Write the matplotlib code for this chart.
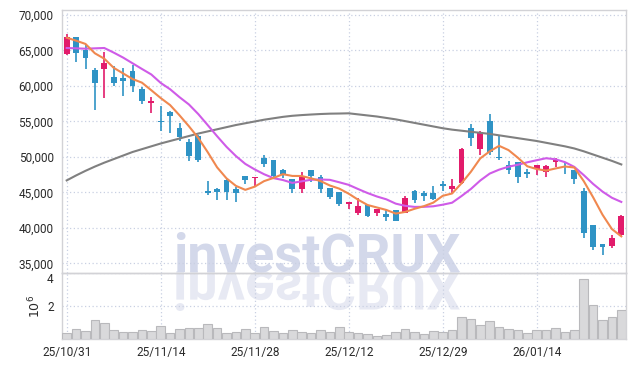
import numpy as np
import matplotlib
matplotlib.use('Agg')
import matplotlib.pyplot as plt
from matplotlib.textpath import TextPath
from matplotlib.patches import PathPatch
from matplotlib.font_manager import FontProperties
from matplotlib.transforms import Affine2D, ScaledTranslation
from matplotlib.ticker import FuncFormatter

# Daily candles (trading days), 25/10/31 .. 26/01/27
opens = [64500, 66850, 65050, 62250, 62450, 61300, 61150, 62100, 59550, 57600,
         55050, 56350, 54100, 52100, 52950, 45200, 45500, 46750, 45500, 47300,
         47100, 49800, 49550, 48150, 46850, 45550, 48150, 47150, 45600, 45000,
         43350, 42150, 43250, 42150, 41950, 42550, 42150, 45200, 44950, 44950,
         46200, 45450, 46300, 54050, 51100, 55050, 50050, 48850, 49250, 47950,
         48300, 47950, 49350, 48750, 48150, 45250, 40400, 37750, 37450, 39000]
highs = [67300, 66900, 65900, 62600, 64800, 62800, 62500, 62900, 59900, 58500,
         57200, 56500, 54750, 52600, 53100, 46600, 45600, 46900, 45800, 47350,
         47250, 50300, 49600, 48300, 46950, 47850, 48200, 47450, 45700, 45050,
         43700, 44250, 43300, 42700, 42550, 42600, 44550, 45300, 45200, 45900,
         46550, 46850, 51300, 54650, 53650, 56050, 53000, 49500, 49300, 48250,
         48850, 48800, 49800, 49100, 48200, 45600, 40450, 37800, 39000, 41850]
lows = [64400, 63350, 62400, 56600, 58300, 59950, 58600, 59200, 57450, 56150,
        53700, 53350, 52300, 49500, 49350, 44600, 43950, 44000, 43700, 46200,
        45900, 48550, 47150, 47000, 44950, 44950, 46500, 44950, 44050, 43150,
        42700, 41850, 41600, 41700, 41050, 41000, 42100, 43550, 43850, 43950,
        45200, 44900, 46200, 51600, 50300, 50300, 49600, 47600, 46400, 47100,
        47400, 47150, 48650, 47600, 46150, 38650, 36900, 36200, 37250, 38900]
closes = [66850, 64700, 64000, 60450, 63200, 60450, 60750, 60050, 57900, 57850,
          54950, 55800, 52850, 50200, 49600, 44950, 45100, 45100, 44900, 46800,
          47200, 49000, 47350, 47550, 45550, 47150, 47350, 45450, 44400, 43350,
          43600, 43100, 41750, 42650, 41600, 41050, 44250, 43950, 44500, 44100,
          45850, 45900, 51100, 52650, 53550, 50750, 49800, 48100, 47250, 47550,
          48800, 48700, 49600, 48650, 46850, 39250, 37300, 37300, 38550, 41700]

# volume in 10^6 shares
volumes = [0.35, 0.60, 0.47, 1.15, 0.97, 0.54, 0.41, 0.41, 0.54, 0.47,
           0.78, 0.35, 0.60, 0.66, 0.66, 0.93, 0.66, 0.35, 0.41, 0.60,
           0.35, 0.72, 0.47, 0.35, 0.54, 0.41, 0.35, 0.54, 0.44, 0.72,
           0.41, 0.35, 0.29, 0.17, 0.23, 0.41, 0.60, 0.41, 0.29, 0.47,
           0.41, 0.54, 1.34, 1.21, 0.84, 1.09, 0.72, 0.60, 0.54, 0.35,
           0.54, 0.54, 0.66, 0.41, 0.54, 3.68, 2.08, 1.15, 1.34, 1.77]

# moving averages
ma5 = [66800, 66380, 65920, 64600, 63840, 62560, 61770, 60980, 60470, 59400,
       58300, 57310, 55870, 54330, 52680, 50680, 48540, 46990, 45930, 45370,
       45820, 46600, 47050, 47580, 47330, 47320, 46990, 46610, 45980, 45540,
       44830, 43980, 43240, 42890, 42540, 42030, 42260, 42700, 43070, 43570,
       44530, 44860, 46290, 47920, 49810, 50790, 51570, 50970, 49890, 48690,
       48300, 48080, 48380, 48660, 48520, 46610, 44330, 41870, 39850, 38820]
ma10 = [65350, 65300, 65250, 65300, 65350, 64700, 64000, 63200, 62400, 61620,
        60430, 59540, 58425, 57400, 56040, 54490, 52925, 51430, 50130, 49025,
        48250, 47570, 47020, 46755, 46350, 46570, 46795, 46830, 46780, 46435,
        46075, 45485, 44925, 44435, 44040, 43430, 43120, 42970, 42980, 43055,
        43280, 43560, 44495, 45495, 46690, 47660, 48215, 48630, 48905, 49250,
        49545, 49825, 49675, 49275, 48605, 47455, 46205, 45125, 44255, 43670]
ma_long = [46700, 47400, 48050, 48650, 49200, 49700, 50200, 50700, 51100, 51500,
           51900, 52250, 52600, 52950, 53300, 53600, 53900, 54200, 54500, 54750,
           55000, 55250, 55450, 55650, 55800, 55900, 55980, 56050, 56100, 56120,
           56150, 56000, 55850, 55700, 55500, 55300, 55050, 54800, 54550, 54300,
           54050, 53850, 53700, 53550, 53400, 53250, 53050, 52850, 52650, 52450,
           52250, 52000, 51750, 51500, 51200, 50800, 50350, 49900, 49450, 48950]

tick_pos = [0, 10, 20, 30, 40, 50]
tick_labels = ['25/10/31', '25/11/14', '25/11/28', '25/12/12', '25/12/29', '26/01/14']

UP = '#e21b6b'
DOWN = '#2f93c5'
GRID = '#c9d0e2'
SPINE = '#d2d2d6'

plt.rcParams['font.family'] = ['Roboto', 'DejaVu Sans']

fig = plt.figure(figsize=(6.35, 3.67), dpi=100)
ax = fig.add_axes([62 / 635, 1 - 273 / 367, 564 / 635, 263 / 367])
axv = fig.add_axes([62 / 635, 1 - 339 / 367, 564 / 635, 66 / 367], sharex=ax)

x = np.arange(len(opens))
o = np.array(opens)
c = np.array(closes)
colors = [UP if cc >= oo else DOWN for oo, cc in zip(o, c)]

# candles
ax.vlines(x, lows, highs, colors=colors, lw=1.2, zorder=3)
ax.bar(x, np.maximum(np.abs(c - o), 90), bottom=np.minimum(o, c), width=0.62,
       color=colors, zorder=3.1)

# moving averages
ax.plot(x, ma_long, color='#808080', lw=1.5, zorder=4)
ax.plot(x, ma10, color='#cf5be8', lw=1.5, zorder=4)
ax.plot(x, ma5, color='#f0884f', lw=1.5, zorder=4)

ax.set_xlim(-0.5, 59.5)
ax.set_ylim(33660, 70700)
ax.set_yticks(np.arange(35000, 70001, 5000))
ax.yaxis.set_major_formatter(FuncFormatter(lambda v, p: f'{v:,.0f}'))
ax.set_xticks(tick_pos)
ax.tick_params(axis='x', labelbottom=False, length=0)
ax.tick_params(axis='y', length=0, pad=6, labelsize=8.5, labelcolor='#2a2a2a')

# volume
axv.bar(x, volumes, width=0.92, color='#d9d9db', edgecolor='#b9b9bc', lw=0.8, zorder=3)
axv.set_ylim(0, 4.03)
axv.set_yticks([2, 4])
axv.set_ylabel('$10^6$', fontsize=9, color='#2a2a2a', labelpad=3)
axv.set_xticks(tick_pos)
axv.set_xticklabels(tick_labels)
axv.tick_params(length=0, labelsize=8.5, labelcolor='#2a2a2a')
axv.tick_params(axis='x', pad=5)
axv.tick_params(axis='y', pad=6)

# nudge the top volume label down a bit so it clears "35,000"
fig.canvas.draw()
top_lbl = axv.get_yticklabels()[-1]
top_lbl.set_transform(top_lbl.get_transform() + ScaledTranslation(0, -3 / 72, fig.dpi_scale_trans))

for a in (ax, axv):
    a.set_facecolor('none')
    a.grid(True, color=GRID, linestyle=(0, (1, 2)), lw=0.9)
    a.set_axisbelow(True)
    for s in a.spines.values():
        s.set_color(SPINE)
        s.set_linewidth(1.0)

# watermark with mirrored copy underneath
wm_font = FontProperties(family='Roboto', weight='bold', size=39)
wm_x = 173 / 635
wm_y = 1 - 271 / 367
fig.text(wm_x, wm_y, 'investCRUX', fontproperties=wm_font, color='#d3d8ea',
         ha='left', va='baseline', zorder=-1)
tp = TextPath((0, 0), 'investCRUX', prop=wm_font)
k = fig.dpi / 72
flip = Affine2D().scale(k / 635, -k / 367).translate(wm_x, wm_y) + fig.transFigure
fig.add_artist(PathPatch(tp, transform=flip, facecolor='#e7e9f3', edgecolor='none', zorder=-1))

fig.savefig('out.png', dpi=100, facecolor='white')
